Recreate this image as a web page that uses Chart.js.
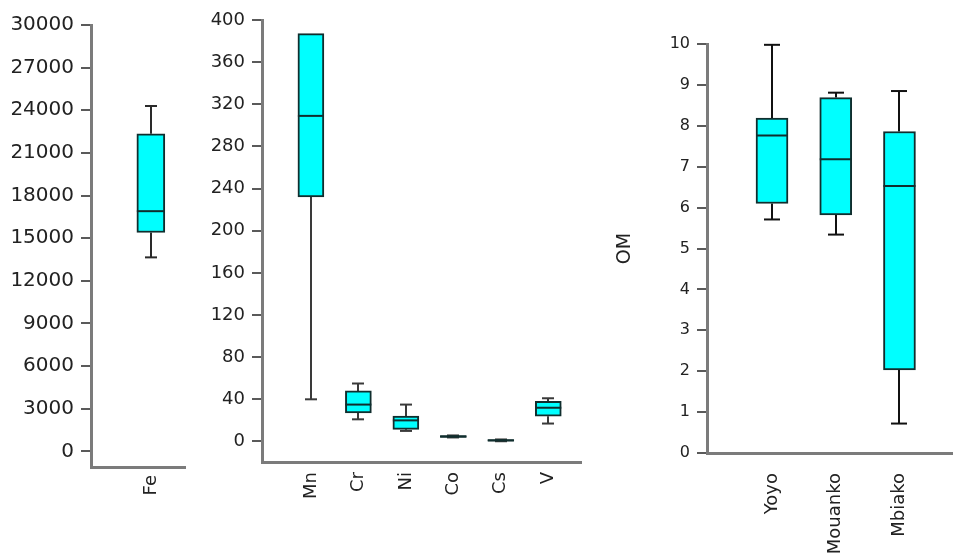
<!DOCTYPE html>
<html><head><meta charset="utf-8">
<script src="https://cdn.jsdelivr.net/npm/chart.js@4"></script>
<style>
html,body{margin:0;padding:0;background:#fff;width:953px;height:559px;overflow:hidden;}
.p{position:absolute;top:0;height:559px;}
</style></head><body>
<div class="p" style="left:0;width:186px"><canvas id="c1" width="186" height="559"></canvas></div>
<div class="p" style="left:190px;width:392px"><canvas id="c2" width="392" height="559"></canvas></div>
<div class="p" style="left:600px;width:353px"><canvas id="c3" width="353" height="559"></canvas></div>
<script>
// ---- Panel 1: Fe ----
const feCategories = ['Fe'];
const feMin    = [13650];
const feQ1     = [15400];
const feMedian = [16900];
const feQ3     = [22350];
const feMax    = [24300];
const feTicks  = [0, 3000, 6000, 9000, 12000, 15000, 18000, 21000, 24000, 27000, 30000];

// ---- Panel 2: trace metals ----
const metalCategories = ['Mn', 'Cr', 'Ni', 'Co', 'Cs', 'V'];
const metalMin    = [40, 21, 10, 3.8, 0.2, 17];
const metalQ1     = [232, 27, 11.5, 3.9, 0.3, 24];
const metalMedian = [309, 35, 20, 4.7, 1.0, 32];
const metalQ3     = [387, 48, 24, 5.6, 1.8, 38];
const metalMax    = [387, 55, 35, 5.7, 1.9, 41];
const metalTicks  = [0, 40, 80, 120, 160, 200, 240, 280, 320, 360, 400];

// ---- Panel 3: OM by site ----
const siteCategories = ['Yoyo', 'Mouanko', 'Mbiako'];
const omMin    = [5.71, 5.34, 0.72];
const omQ1     = [6.10, 5.82, 2.03];
const omMedian = [7.76, 7.18, 6.53];
const omQ3     = [8.19, 8.69, 7.86];
const omMax    = [9.98, 8.81, 8.85];
const omTicks  = [0, 1, 2, 3, 4, 5, 6, 7, 8, 9, 10];

const FONT = 'DejaVu Sans';
const TXT = '#222';
const EDGE = '#102e2e';

const boxPlugin = {
  id: 'boxw',
  beforeDatasetsDraw(chart, args, o) {
    const {ctx, scales: {y}} = chart;
    const meta = chart.getDatasetMeta(0);
    ctx.save();
    ctx.strokeStyle = o.whisker; ctx.lineWidth = 2; ctx.lineCap = 'butt';
    o.min.forEach((mn, i) => {
      const bar = meta.data[i]; const cx = Math.round(bar.x);
      const seg = (a, b) => {
        if (a === b) return;
        const ya = y.getPixelForValue(a), yb = y.getPixelForValue(b);
        ctx.beginPath(); ctx.moveTo(cx, ya); ctx.lineTo(cx, yb); ctx.stroke();
        ctx.beginPath(); ctx.moveTo(cx - o.cap / 2, yb); ctx.lineTo(cx + o.cap / 2, yb); ctx.stroke();
      };
      seg(o.q1[i], mn);
      seg(o.q3[i], o.max[i]);
    });
    ctx.restore();
  },
  afterDatasetsDraw(chart, args, o) {
    const {ctx, scales: {y}} = chart;
    const meta = chart.getDatasetMeta(0);
    ctx.save();
    ctx.strokeStyle = o.medianColor; ctx.lineWidth = 2;
    o.median.forEach((md, i) => {
      const bar = meta.data[i];
      const ym = y.getPixelForValue(md);
      ctx.beginPath(); ctx.moveTo(bar.x - bar.width / 2, ym); ctx.lineTo(bar.x + bar.width / 2, ym); ctx.stroke();
    });
    ctx.restore();
  }
};

function boxChart(id, cats, mn, q1, md, q3, mx, ticks, o) {
  return new Chart(document.getElementById(id), {
    type: 'bar',
    data: {
      datasets: [{
        data: cats.map((c, i) => ({x: i, y: [q1[i], q3[i]]})),
        backgroundColor: '#00ffff',
        borderColor: EDGE,
        borderWidth: 2,
        borderSkipped: false,
        barThickness: o.bar
      }]
    },
    options: {
      responsive: false,
      animation: false,
      layout: {padding: {top: o.top, left: 0, right: 0, bottom: 0}},
      plugins: {
        legend: {display: false},
        tooltip: {enabled: false},
        boxw: {min: mn, q1: q1, median: md, q3: q3, max: mx, cap: o.cap, whisker: o.whisker, medianColor: EDGE}
      },
      scales: {
        x: {
          type: 'linear', min: o.xmin, max: o.xmax, offset: false,
          grid: {display: false, drawTicks: false},
          border: {display: true, color: '#7b7b7b', width: 3},
          afterBuildTicks: s => { s.ticks = cats.map((c, i) => ({value: i})); },
          afterFit: s => { s.height = o.xh; },
          ticks: {
            autoSkip: false, minRotation: 90, maxRotation: 90, padding: o.xpad,
            color: TXT, font: {family: FONT, size: o.xfont},
            callback: v => cats[v]
          }
        },
        y: {
          type: 'linear', min: o.ymin, max: o.ymax,
          afterBuildTicks: s => { s.ticks = ticks.map(v => ({value: v})); },
          afterFit: s => { s.width = o.yw; },
          grid: {display: true, drawOnChartArea: false, drawTicks: true, tickLength: 10, color: '#5a5a5a', lineWidth: 2},
          border: {display: true, color: '#7b7b7b', width: 3},
          ticks: {padding: 7, color: TXT, font: {family: FONT, size: o.yfont}, callback: v => String(v)},
          title: o.title ? {display: true, text: o.title, color: TXT, font: {family: FONT, size: 19}, padding: {top: 14, bottom: 0}} : {display: false}
        }
      }
    },
    plugins: [boxPlugin]
  });
}

boxChart('c1', feCategories, feMin, feQ1, feMedian, feQ3, feMax, feTicks,
  {bar: 28, cap: 12, whisker: '#2a2a2a', top: 25, xh: 92, yw: 91, xmin: -0.63, xmax: 0.37, ymin: -1100, ymax: 30000, xpad: 8, xfont: 18, yfont: 20});
boxChart('c2', metalCategories, metalMin, metalQ1, metalMedian, metalQ3, metalMax, metalTicks,
  {bar: 26, cap: 12, whisker: '#3a3a3a', top: 20, xh: 97, yw: 72, xmin: -1.03, xmax: 5.71, ymin: -19.5, ymax: 400, xpad: 10, xfont: 18, yfont: 18});
boxChart('c3', siteCategories, omMin, omQ1, omMedian, omQ3, omMax, omTicks,
  {bar: 32, cap: 16, whisker: '#111', top: 44, xh: 106, yw: 107, xmin: -1.02, xmax: 2.84, ymin: 0, ymax: 10, xpad: 20, xfont: 18, yfont: 16, title: 'OM'});
</script>
</body></html>
